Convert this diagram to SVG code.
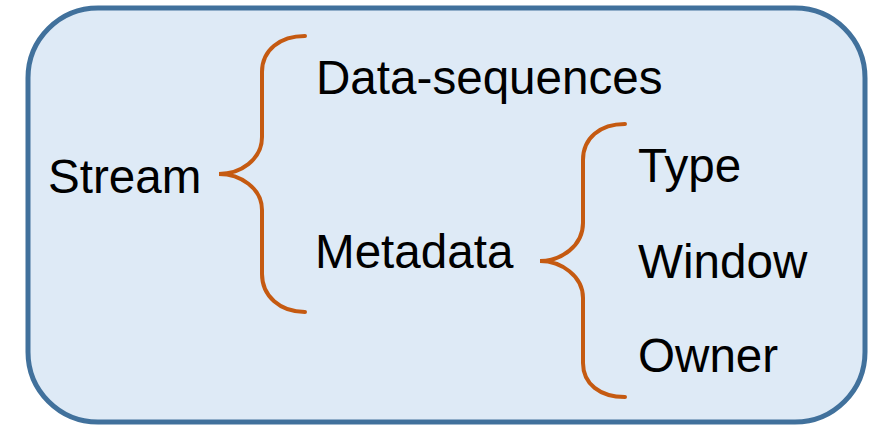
<svg xmlns="http://www.w3.org/2000/svg" width="882" height="427" viewBox="0 0 882 427">
  <style>
    .frame { fill: #deeaf6; stroke: #41719c; stroke-width: 5; }
    .brace { fill: none; stroke: #c55a11; stroke-width: 4; stroke-linecap: round; }
    .label { font-family: "Liberation Sans", Arial, sans-serif; font-size: 47.6px; fill: #000; }
  </style>
  <rect class="frame" x="28" y="8" width="837" height="414" rx="70" ry="70"/>

  <g id="connectors">
    <!-- Stream brace -->
    <path class="brace" d="M305,36 C280,36 262,50 262,72 L262,137 C262,160 240,174 219,174 C240,174 262,188 262,210 L262,274 C262,296 280,312 305,312"/>
    <!-- Metadata brace -->
    <path class="brace" d="M625,124 C600,124 583,138 583,160 L583,223 C583,246 561,261 540,261 C561,261 583,276 583,298 L583,363 C583,384 600,397 625,397"/>
  </g>

  <g id="stream"><text class="label" x="48" y="193">Stream</text></g>
  <g id="data-sequences"><text class="label" x="316" y="94">Data-sequences</text></g>
  <g id="metadata"><text class="label" x="315" y="268">Metadata</text></g>
  <g id="type"><text class="label" x="638" y="182">Type</text></g>
  <g id="window"><text class="label" x="638" y="278">Window</text></g>
  <g id="owner"><text class="label" x="638" y="372">Owner</text></g>
</svg>
